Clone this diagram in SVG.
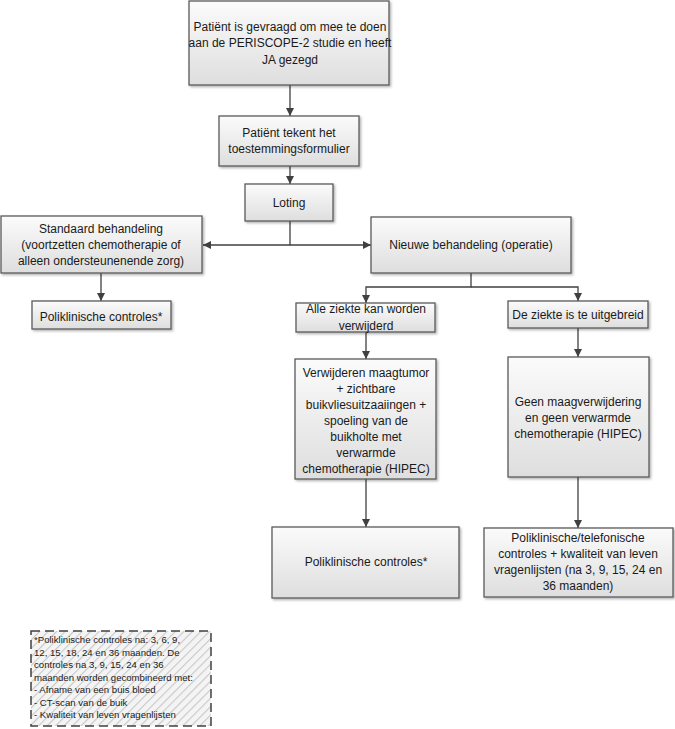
<svg xmlns="http://www.w3.org/2000/svg" width="675" height="729" viewBox="0 0 675 729">
<defs>
<linearGradient id="g" x1="0" y1="0" x2="0" y2="1">
<stop offset="0" stop-color="#fbfbfb"/>
<stop offset="1" stop-color="#dedede"/>
</linearGradient>
<pattern id="hatch" width="6" height="6" patternUnits="userSpaceOnUse" patternTransform="rotate(45)">
<rect width="6" height="6" fill="#f4f4f4"/>
<line x1="0" y1="0" x2="0" y2="6" stroke="#c8c8c8" stroke-width="2.2"/>
</pattern>
<marker id="ah" viewBox="0 0 10 10" refX="10" refY="5" markerWidth="8" markerHeight="8" markerUnits="userSpaceOnUse" orient="auto">
<path d="M0,0 L10,5 L0,10 z" fill="#404040"/>
</marker>
<filter id="sh" x="-5%" y="-5%" width="115%" height="120%">
<feDropShadow dx="1.5" dy="1.5" stdDeviation="0.8" flood-color="#000" flood-opacity="0.3"/>
</filter>
</defs>
<style>
.box{fill:url(#g);stroke:#5a5a5a;stroke-width:1.3;filter:url(#sh)}
.t{font-family:"Liberation Sans",Arial,sans-serif;font-size:12px;fill:#1a1a1a;text-anchor:middle}
.n{font-family:"Liberation Sans",Arial,sans-serif;font-size:9.6px;fill:#1a1a1a}
.c{fill:none;stroke:#404040;stroke-width:1.3}
</style>
<rect width="675" height="729" fill="#ffffff"/>
<g id="connectors">
<path class="c" d="M290,85 V116" marker-end="url(#ah)"/>
<path class="c" d="M290,166 V184" marker-end="url(#ah)"/>
<path class="c" d="M290,221 V245 H203" marker-end="url(#ah)"/>
<path class="c" d="M290,245 H371" marker-end="url(#ah)"/>
<path class="c" d="M101,273 V301" marker-end="url(#ah)"/>
<path class="c" d="M471,273 V287 H366 V303" marker-end="url(#ah)"/>
<path class="c" d="M471,287 H578 V301" marker-end="url(#ah)"/>
<path class="c" d="M366,332 V359" marker-end="url(#ah)"/>
<path class="c" d="M366,479 V527" marker-end="url(#ah)"/>
<path class="c" d="M578,328 V357" marker-end="url(#ah)"/>
<path class="c" d="M578,477 V528" marker-end="url(#ah)"/>
</g>
<g id="n1"><rect class="box" x="189" y="1" width="200" height="84"/>
<text class="t" x="290" y="31">Patiënt is gevraagd om mee te doen</text>
<text class="t" x="290" y="47">aan de PERISCOPE-2 studie en heeft</text>
<text class="t" x="290" y="64">JA gezegd</text></g>
<g id="n2"><rect class="box" x="219" y="116" width="140" height="50"/>
<text class="t" x="289" y="137">Patiënt tekent het</text>
<text class="t" x="289" y="153">toestemmingsformulier</text></g>
<g id="n3"><rect class="box" x="245" y="184" width="88" height="37"/>
<text class="t" x="289" y="207">Loting</text></g>
<g id="n4"><rect class="box" x="1" y="216" width="201" height="57"/>
<text class="t" x="101" y="233">Standaard behandeling</text>
<text class="t" x="101" y="249">(voortzetten chemotherapie of</text>
<text class="t" x="101" y="265">alleen ondersteunenende zorg)</text></g>
<g id="n5"><rect class="box" x="371" y="217" width="200" height="56"/>
<text class="t" x="471" y="249">Nieuwe behandeling (operatie)</text></g>
<g id="n6"><rect class="box" x="32" y="301" width="139" height="28"/>
<text class="t" x="101" y="321">Poliklinische controles*</text></g>
<g id="n7"><rect class="box" x="296" y="303" width="139" height="29"/>
<text class="t" x="366" y="313">Alle ziekte kan worden</text>
<text class="t" x="366" y="330">verwijderd</text></g>
<g id="n8"><rect class="box" x="508" y="301" width="140" height="27"/>
<text class="t" x="578" y="319">De ziekte is te uitgebreid</text></g>
<g id="n9"><rect class="box" x="295" y="359" width="141" height="120"/>
<text class="t" x="366" y="377">Verwijderen maagtumor</text>
<text class="t" x="366" y="393">+ zichtbare</text>
<text class="t" x="366" y="409">buikvliesuitzaaiingen +</text>
<text class="t" x="366" y="425">spoeling van de</text>
<text class="t" x="366" y="441">buikholte met</text>
<text class="t" x="366" y="457">verwarmde</text>
<text class="t" x="366" y="473">chemotherapie (HIPEC)</text></g>
<g id="n10"><rect class="box" x="508" y="357" width="141" height="120"/>
<text class="t" x="578" y="406">Geen maagverwijdering</text>
<text class="t" x="578" y="422">en geen verwarmde</text>
<text class="t" x="578" y="438">chemotherapie (HIPEC)</text></g>
<g id="n11"><rect class="box" x="272" y="527" width="187" height="71"/>
<text class="t" x="366" y="566">Poliklinische controles*</text></g>
<g id="n12"><rect class="box" x="484" y="528" width="189" height="69"/>
<text class="t" x="578" y="542">Poliklinische/telefonische</text>
<text class="t" x="578" y="558">controles + kwaliteit van leven</text>
<text class="t" x="578" y="574">vragenlijsten (na 3, 9, 15, 24 en</text>
<text class="t" x="578" y="590">36 maanden)</text></g>
<g id="note"><rect x="31" y="631" width="180" height="95" fill="url(#hatch)" stroke="#404040" stroke-width="1.5" stroke-dasharray="9,5"/>
<text class="n" x="34" y="643">*Poliklinische controles na: 3, 6, 9,</text>
<text class="n" x="34" y="655.5">12, 15, 18, 24 en 36 maanden. De</text>
<text class="n" x="34" y="668">controles na 3, 9, 15, 24 en 36</text>
<text class="n" x="34" y="680.5">maanden worden gecombineerd met:</text>
<text class="n" x="34" y="693">- Afname van een buis bloed</text>
<text class="n" x="34" y="705.5">- CT-scan van de buik</text>
<text class="n" x="34" y="718">- Kwaliteit van leven vragenlijsten</text></g>
</svg>
